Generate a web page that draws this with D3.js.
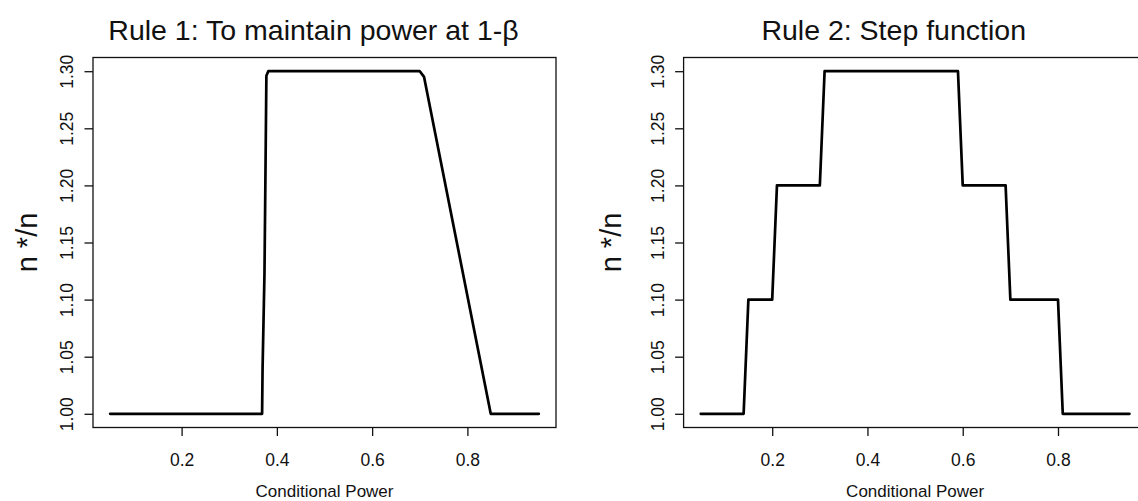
<!DOCTYPE html>
<html>
<head>
<meta charset="utf-8">
<script src="https://cdn.jsdelivr.net/npm/d3@7"></script>
<style>
  html, body { margin: 0; padding: 0; background: #fff; }
  svg { display: block; font-family: "Liberation Sans", Arial, Helvetica, sans-serif; }
</style>
</head>
<body>
<svg id="chart" width="1138" height="501"></svg>
<script>
// Rule 1: sample size ratio needed to keep power at 1-beta
const rule1Power = [0.05, 0.369, 0.370, 0.374, 0.376, 0.378, 0.382, 0.700, 0.709, 0.849, 0.95];
const rule1Ratio = [1.00, 1.00, 1.04, 1.123, 1.208, 1.296, 1.30, 1.30, 1.295, 1.00, 1.00];

// Rule 2: step function of conditional power
const rule2Power = [0.05, 0.14, 0.15, 0.20, 0.21, 0.30, 0.31, 0.59, 0.60, 0.69, 0.70, 0.80, 0.81, 0.95];
const rule2Ratio = [1.0, 1.0, 1.1, 1.1, 1.2, 1.2, 1.3, 1.3, 1.2, 1.2, 1.1, 1.1, 1.0, 1.0];

const xTicks = [0.2, 0.4, 0.6, 0.8];
const yTicks = [1.00, 1.05, 1.10, 1.15, 1.20, 1.25, 1.30];
const titles = ["Rule 1: To maintain power at 1-\u03B2", "Rule 2: Step function"];
const xTitle = "Conditional Power";
const yTitle = "n */n";

const svg = d3.select("#chart");
svg.append("rect").attr("width", 1138).attr("height", 501).attr("fill", "#fff");

const panelW = 463;
const plotTop = 57.5, plotBottom = 427.5;

const panels = [
  { left: 93,    titleX: 313.5, yTitleX: 36.5,  power: rule1Power, ratio: rule1Ratio, title: titles[0] },
  { left: 683.6, titleX: 893.7, yTitleX: 620.5, power: rule2Power, ratio: rule2Ratio, title: titles[1] }
];

// R-style 4% padding around the data range
const xDomain = [0.05 - 0.036, 0.95 + 0.036];
const yDomain = [1.0 - 0.012, 1.3 + 0.012];

panels.forEach(p => {
  const x = d3.scaleLinear().domain(xDomain).range([p.left, p.left + panelW]);
  const y = d3.scaleLinear().domain(yDomain).range([plotBottom, plotTop]);
  const g = svg.append("g");

  // plot frame
  g.append("rect")
    .attr("x", x(xDomain[0])).attr("y", y(yDomain[1]))
    .attr("width", x(xDomain[1]) - x(xDomain[0]))
    .attr("height", y(yDomain[0]) - y(yDomain[1]))
    .attr("fill", "none").attr("stroke", "#111").attr("stroke-width", 1.3);

  // x axis
  const xa = g.append("g")
    .attr("transform", `translate(0,${y(yDomain[0])})`)
    .call(d3.axisBottom(x).tickValues(xTicks).tickSize(8.5).tickFormat(d3.format(".1f")));
  xa.select(".domain").remove();
  xa.selectAll(".tick line").attr("stroke", "#111").attr("stroke-width", 1.3);
  xa.selectAll(".tick text")
    .attr("y", 38.5).attr("dy", 0)
    .attr("fill", "#111").attr("font-size", 17.5)
    .attr("font-family", "Liberation Sans, Arial, sans-serif");

  // y axis with labels parallel to the axis
  const ya = g.append("g")
    .attr("transform", `translate(${x(xDomain[0])},0)`)
    .call(d3.axisLeft(y).tickValues(yTicks).tickSize(8.5).tickFormat(d3.format(".2f")));
  ya.select(".domain").remove();
  ya.selectAll(".tick line").attr("stroke", "#111").attr("stroke-width", 1.3);
  ya.selectAll(".tick text")
    .attr("transform", "rotate(-90)")
    .attr("x", 0).attr("y", -20).attr("dy", 0)
    .attr("text-anchor", "middle")
    .attr("fill", "#111").attr("font-size", 17.5)
    .attr("font-family", "Liberation Sans, Arial, sans-serif");

  // curve
  const pts = p.power.map((v, i) => [v, p.ratio[i]]);
  g.append("path")
    .datum(pts)
    .attr("d", d3.line().x(d => x(d[0])).y(d => y(d[1])))
    .attr("fill", "none").attr("stroke", "#000")
    .attr("stroke-width", 2.7)
    .attr("stroke-linejoin", "round").attr("stroke-linecap", "round");

  // titles
  g.append("text")
    .attr("x", p.titleX).attr("y", 39.5)
    .attr("text-anchor", "middle")
    .attr("font-size", 28.5).attr("fill", "#111")
    .text(p.title);

  g.append("text")
    .attr("x", (x(xDomain[0]) + x(xDomain[1])) / 2).attr("y", 497)
    .attr("text-anchor", "middle")
    .attr("font-size", 17).attr("fill", "#111")
    .text(xTitle);

  g.append("text")
    .attr("transform", `translate(${p.yTitleX},${(plotTop + plotBottom) / 2}) rotate(-90)`)
    .attr("text-anchor", "middle")
    .attr("font-size", 29).attr("fill", "#111")
    .text(yTitle);
});
</script>
</body>
</html>
